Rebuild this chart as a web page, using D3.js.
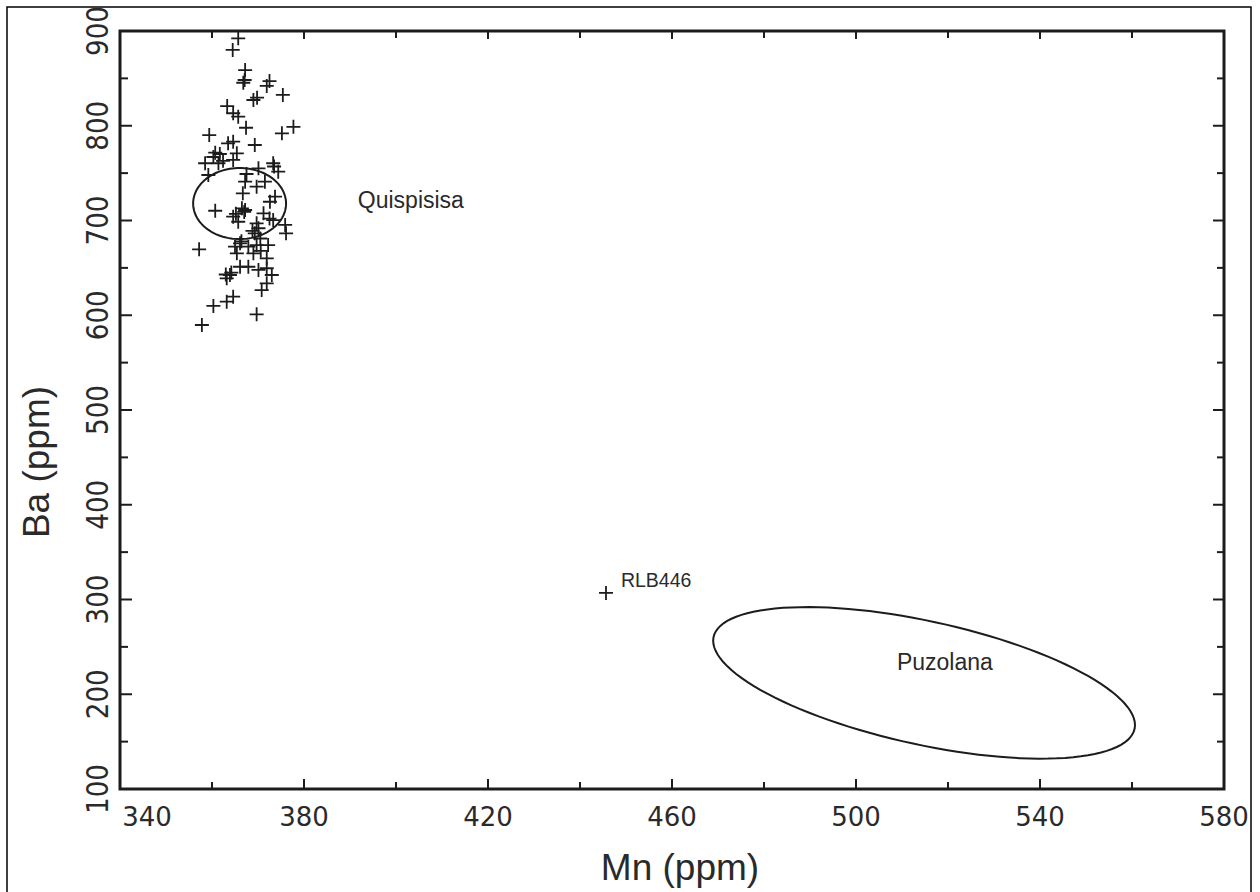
<!DOCTYPE html>
<html>
<head>
<meta charset="utf-8">
<script src="https://cdn.jsdelivr.net/npm/d3@7"></script>
<style>
  html, body { margin: 0; padding: 0; background: #fff; }
  svg { display: block; }
</style>
</head>
<body>
<svg id="chart" width="1260" height="892"></svg>
<script>
// ---------- data ----------
const xTickValues = [340, 360, 380, 400, 420, 440, 460, 480, 500, 520, 540, 560, 580];
const xTickLabels = [340, 380, 420, 460, 500, 540, 580];
const yTickValues = [100, 150, 200, 250, 300, 350, 400, 450, 500, 550, 600, 650, 700, 750, 800, 850, 900];
const yTickLabels = [100, 200, 300, 400, 500, 600, 700, 800, 900];

// Quispisisa samples: [Mn, Ba]
const quispisisaMn = [365.7, 364.5, 367.2, 366.8, 367.1, 372.5, 371.9, 375.4, 369.0, 369.8,
  363.3, 364.6, 365.7, 367.4, 377.7, 375.2, 359.4, 363.5, 364.6, 369.3,
  360.7, 361.7, 365.4, 364.6, 358.5, 361.4, 359.2, 367.5, 370.1, 373.3,
  374.4, 367.2, 369.7, 371.5, 366.7, 373.7, 372.6, 360.7, 366.5, 367.2,
  364.6, 365.7, 371.2, 373.3, 375.9, 376.1, 369.7, 370.1, 369.3, 357.2,
  365.0, 366.1, 367.9, 369.7, 372.2, 365.4, 369.0, 371.9, 366.1, 367.9,
  370.1, 371.9, 363.9, 363.2, 373.0, 371.9, 370.8, 364.6, 363.2, 360.3,
  369.7, 357.8, 362.4, 363.0, 364.2, 368.8, 370.5, 366.4, 372.5, 365.2,
  373.5, 360.3, 370.6, 367.0];
const quispisisaBa = [892.3, 880.0, 858.8, 845.4, 848.3, 847.2, 842.0, 832.5, 827.2, 829.6,
  820.8, 813.2, 809.6, 797.9, 798.9, 792.0, 790.2, 781.5, 783.2, 779.7,
  771.6, 770.2, 770.9, 763.9, 760.4, 760.4, 748.0, 749.1, 755.1, 760.4,
  751.5, 741.0, 735.7, 741.0, 728.7, 725.1, 719.8, 710.3, 712.9, 711.1,
  704.0, 698.7, 707.6, 700.5, 695.3, 686.5, 697.0, 691.8, 686.5, 669.6,
  672.4, 675.9, 672.4, 674.1, 674.1, 665.4, 665.4, 660.1, 651.2, 651.2,
  647.8, 649.6, 642.5, 639.0, 642.5, 633.7, 626.6, 619.6, 614.3, 609.8,
  601.0, 589.7, 763.0, 643.0, 645.0, 689.0, 681.0, 678.0, 702.0, 707.0,
  757.0, 767.0, 668.0, 709.0];

const singleSample = { name: "RLB446", mn: 445.65, ba: 306.9 };

// Field ellipses: centre, half-ranges (data units) and phase (correlation)
const fieldNames = ["Quispisisa", "Puzolana"];
const fieldCenterMn = [366.0, 514.8];
const fieldCenterBa = [717.9, 212.0];
const fieldRadiusMn = [10.1, 45.85];
const fieldRadiusBa = [37.5, 80.0];
const fieldPhase = [0, -0.5896];
// label anchors (data units)
const fieldLabelMn = [391.7, 508.9];
const fieldLabelBa = [713.2, 225.6];

// ---------- layout ----------
const svg = d3.select("#chart");
const pLeft = 120, pRight = 1224, pTop = 31, pBottom = 789;
const x = d3.scaleLinear().domain([340, 580]).range([pLeft, pRight]);
const y = d3.scaleLinear().domain([100, 900]).range([pBottom, pTop]);
const ink = "#1c1c1c";
const textInk = "#2a2a2a";

// outer border
svg.append("rect").attr("x", 7).attr("y", 7).attr("width", 1244).attr("height", 900)
  .attr("fill", "none").attr("stroke", "#000").attr("stroke-width", 1.5);

// ticks
const isMajorX = v => xTickLabels.includes(v);
const isMajorY = v => yTickLabels.includes(v);
const tickG = svg.append("g").attr("stroke", ink).attr("stroke-width", 2);
const innerX = xTickValues.filter(v => v > 340 && v < 580);
const innerY = yTickValues.filter(v => v > 100 && v < 900);
tickG.append("g").selectAll("line").data(innerX).join("line")
  .attr("x1", d => x(d)).attr("x2", d => x(d))
  .attr("y1", pBottom).attr("y2", d => pBottom - (isMajorX(d) ? 10 : 7));
tickG.append("g").selectAll("line").data(innerX).join("line")
  .attr("x1", d => x(d)).attr("x2", d => x(d))
  .attr("y1", pTop).attr("y2", d => pTop + (isMajorX(d) ? 8 : 7));
tickG.append("g").selectAll("line").data(innerY).join("line")
  .attr("y1", d => y(d)).attr("y2", d => y(d))
  .attr("x1", pLeft).attr("x2", d => pLeft + (isMajorY(d) ? 12 : 8));
tickG.append("g").selectAll("line").data(innerY).join("line")
  .attr("y1", d => y(d)).attr("y2", d => y(d))
  .attr("x1", pRight).attr("x2", d => pRight - (isMajorY(d) ? 11 : 7));

// frame
svg.append("rect").attr("x", pLeft).attr("y", pTop).attr("width", pRight - pLeft).attr("height", pBottom - pTop)
  .attr("fill", "none").attr("stroke", ink).attr("stroke-width", 3);

// x tick labels
svg.append("g").selectAll("text").data(xTickLabels).join("text")
  .attr("x", d => x(d) + (d === 340 ? 27 : 0))
  .attr("y", 826)
  .attr("text-anchor", "middle")
  .attr("font-family", "DejaVu Sans, sans-serif")
  .attr("font-size", 26)
  .attr("fill", textInk)
  .text(d => d);

// y tick labels (rotated)
svg.append("g").selectAll("text").data(yTickLabels).join("text")
  .attr("transform", d => `translate(108,${y(d)}) rotate(-90)`)
  .attr("text-anchor", "middle")
  .attr("font-family", "DejaVu Sans, sans-serif")
  .attr("font-size", 30)
  .attr("textLength", 50)
  .attr("lengthAdjust", "spacingAndGlyphs")
  .attr("fill", textInk)
  .text(d => d);

// axis titles
svg.append("text").attr("x", 680).attr("y", 880).attr("text-anchor", "middle")
  .attr("font-family", "Liberation Sans, Arial, sans-serif").attr("font-size", 37)
  .attr("fill", textInk).text("Mn (ppm)");
svg.append("text").attr("transform", "translate(49,462) rotate(-90)").attr("text-anchor", "middle")
  .attr("font-family", "Liberation Sans, Arial, sans-serif").attr("font-size", 37)
  .attr("fill", textInk).text("Ba (ppm)");

// ellipses
const fields = fieldNames.map((n, i) => ({
  name: n, mn: fieldCenterMn[i], ba: fieldCenterBa[i], rMn: fieldRadiusMn[i],
  rBa: fieldRadiusBa[i], phase: fieldPhase[i], lmn: fieldLabelMn[i], lba: fieldLabelBa[i]
}));
const line = d3.line().x(d => x(d[0])).y(d => y(d[1])).curve(d3.curveLinearClosed);
svg.append("g").selectAll("path").data(fields).join("path")
  .attr("d", f => line(d3.range(0, 120).map(k => {
    const t = k / 120 * 2 * Math.PI;
    return [f.mn + f.rMn * Math.cos(t), f.ba + f.rBa * Math.sin(t + f.phase)];
  })))
  .attr("fill", "none").attr("stroke", ink).attr("stroke-width", 2);

svg.append("g").selectAll("text").data(fields).join("text")
  .attr("x", f => x(f.lmn)).attr("y", f => y(f.lba))
  .attr("font-family", "Liberation Sans, Arial, sans-serif").attr("font-size", 23)
  .attr("fill", textInk).text(f => f.name);

// crosses
const pts = quispisisaMn.map((m, i) => ({ mn: m, ba: quispisisaBa[i] }));
pts.push({ mn: singleSample.mn, ba: singleSample.ba });
const arm = 7;
svg.append("g").attr("stroke", ink).attr("stroke-width", 1.8).attr("fill", "none")
  .selectAll("path").data(pts).join("path")
  .attr("d", d => {
    const cx = x(d.mn), cy = y(d.ba);
    return `M${cx - arm},${cy}H${cx + arm}M${cx},${cy - arm}V${cy + arm}`;
  });

svg.append("text").attr("x", x(448.9)).attr("y", y(313.2))
  .attr("font-family", "Liberation Sans, Arial, sans-serif").attr("font-size", 19.5)
  .attr("fill", textInk).text(singleSample.name);
</script>
</body>
</html>
